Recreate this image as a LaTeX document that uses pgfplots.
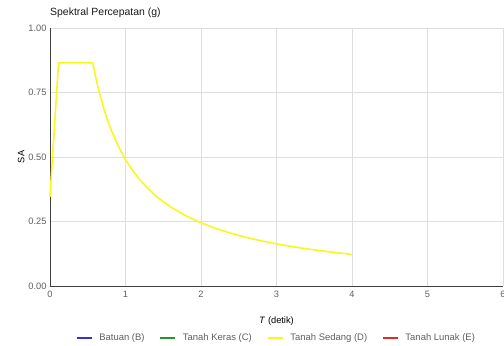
\documentclass[border=0pt]{standalone}
\usepackage{pgfplots}
\pgfplotsset{compat=1.18}
\usepackage{fontspec}
\setmainfont{Liberation Sans}
\definecolor{curveY}{RGB}{248,248,30}
\definecolor{legB}{RGB}{50,50,210}
\definecolor{legC}{RGB}{40,150,40}
\definecolor{legE}{RGB}{230,40,40}
\definecolor{tickgray}{RGB}{95,95,95}
\begin{document}
\begin{tikzpicture}
\path[use as bounding box] (0,0) rectangle (504bp,346bp);
\begin{axis}[
  at={(50bp,60bp)}, anchor=south west,
  scale only axis, width=453bp, height=258bp,
  xmin=0, xmax=6, ymin=0, ymax=1,
  xtick={0,1,2,3,4,5,6}, ytick={0,0.25,0.5,0.75,1},
  yticklabel style={/pgf/number format/fixed,/pgf/number format/precision=2,/pgf/number format/fixed zerofill},
  /pgf/number format/assume math mode=true,
  tick label style={font=\fontsize{9.3}{10}\selectfont, text=tickgray},
  xticklabel style={yshift=-2bp},
  grid=major, major grid style={draw=black!13, line width=0.6bp},
  axis x line*=bottom, axis y line*=left,
  axis line style={draw=black!75, line width=0.9bp, -},
  major tick length=0pt,
  xlabel={\textit{T} (detik)},
  xlabel style={font=\fontsize{9.3}{10}\selectfont, at={(axis description cs:0.5,0)}, anchor=north, yshift=-27bp},
  ylabel={SA},
  ylabel style={font=\fontsize{9.3}{10}\selectfont, at={(axis description cs:0,0.5)}, anchor=south, xshift=0bp, yshift=22bp},
  clip=false,
  legend columns=4,
  legend style={at={(0.5,0)}, anchor=center, yshift=-52bp, draw=none, fill=none,
    font=\fontsize{9.5}{10}\selectfont, text=tickgray,
    /tikz/every odd column/.append style={column sep=5bp},
    /tikz/every even column/.append style={column sep=13bp}},
  legend image code/.code={\draw[#1] (0bp,0bp) -- (15bp,0bp);},
]
\addlegendimage{legB, line width=1.3bp}
\addlegendentry{Batuan (B)}
\addlegendimage{legC, line width=1.3bp}
\addlegendentry{Tanah Keras (C)}
\addplot[curveY, line width=1.6bp, line join=round] coordinates {
(0,0.346) (0.113,0.865) (0.566,0.865) (0.6,0.8167) (0.65,0.7538) (0.7,0.7)
(0.75,0.6533) (0.8,0.6125) (0.9,0.5444) (1.0,0.49) (1.1,0.4455) (1.2,0.4083)
(1.3,0.3769) (1.4,0.35) (1.5,0.3267) (1.6,0.3063) (1.8,0.2722) (2.0,0.245)
(2.2,0.2227) (2.4,0.2042) (2.6,0.1885) (2.8,0.175) (3.0,0.1633) (3.2,0.1531)
(3.4,0.1441) (3.6,0.1361) (3.8,0.1289) (4.0,0.1225)};
\addlegendentry{Tanah Sedang (D)}
\addlegendimage{legE, line width=1.3bp}
\addlegendentry{Tanah Lunak (E)}
\end{axis}
\node[anchor=base west, font=\fontsize{10.5}{12}\selectfont, text=black!90, inner sep=0] at (50bp,330bp) {Spektral Percepatan (g)};
\end{tikzpicture}
\end{document}
